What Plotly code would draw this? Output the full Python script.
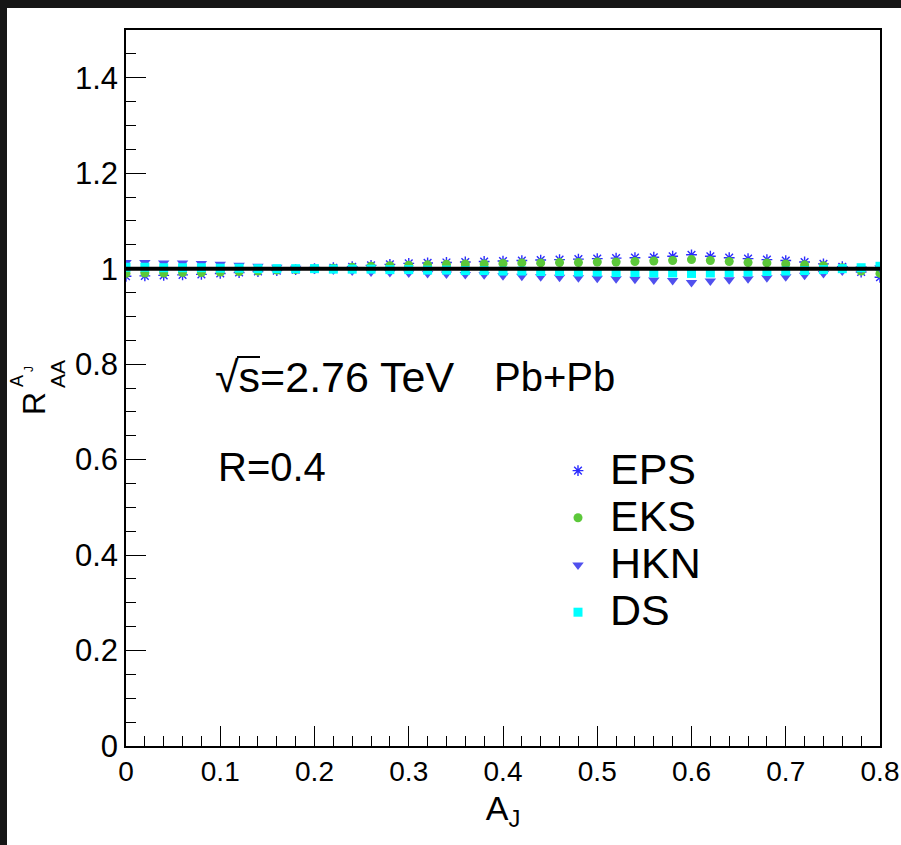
import plotly.graph_objects as go

# A_J bins
aj = [0.00, 0.02, 0.04, 0.06, 0.08, 0.10, 0.12, 0.14, 0.16, 0.18,
      0.20, 0.22, 0.24, 0.26, 0.28, 0.30, 0.32, 0.34, 0.36, 0.38,
      0.40, 0.42, 0.44, 0.46, 0.48, 0.50, 0.52, 0.54, 0.56, 0.58,
      0.60, 0.62, 0.64, 0.66, 0.68, 0.70, 0.72, 0.74, 0.76, 0.78, 0.80]

# R_AA^{A_J} for each nPDF set
eps = [0.984, 0.985, 0.986, 0.987, 0.988, 0.990, 0.992, 0.994, 0.996, 0.998,
       1.000, 1.002, 1.004, 1.007, 1.009, 1.011, 1.012, 1.013, 1.014, 1.015,
       1.016, 1.017, 1.018, 1.019, 1.020, 1.021, 1.022, 1.023, 1.024, 1.026,
       1.029, 1.026, 1.023, 1.021, 1.019, 1.017, 1.014, 1.010, 1.004, 0.993, 0.982]
eks = [0.990, 0.991, 0.991, 0.992, 0.992, 0.993, 0.994, 0.995, 0.997, 0.998,
       1.000, 1.001, 1.003, 1.005, 1.006, 1.007, 1.008, 1.009, 1.010, 1.010,
       1.011, 1.012, 1.012, 1.013, 1.013, 1.014, 1.014, 1.015, 1.016, 1.017,
       1.019, 1.017, 1.015, 1.013, 1.012, 1.010, 1.008, 1.006, 1.002, 0.995, 0.990]
hkn = [1.013, 1.013, 1.012, 1.012, 1.011, 1.009, 1.007, 1.005, 1.003, 1.001,
       0.999, 0.997, 0.995, 0.993, 0.992, 0.991, 0.990, 0.989, 0.988, 0.987,
       0.985, 0.984, 0.983, 0.982, 0.981, 0.980, 0.979, 0.978, 0.976, 0.975,
       0.971, 0.974, 0.977, 0.979, 0.981, 0.983, 0.986, 0.990, 0.995, 1.000, 1.002]
ds = [1.003, 1.003, 1.002, 1.002, 1.002, 1.001, 1.001, 1.000, 1.000, 1.000,
      1.000, 0.999, 0.999, 0.999, 0.998, 0.998, 0.997, 0.997, 0.996, 0.996,
      0.995, 0.995, 0.994, 0.994, 0.993, 0.993, 0.992, 0.992, 0.991, 0.991,
      0.990, 0.991, 0.992, 0.993, 0.994, 0.995, 0.996, 0.998, 1.000, 1.002, 1.005]

x_ticks = [0, 0.1, 0.2, 0.3, 0.4, 0.5, 0.6, 0.7, 0.8]
y_ticks = [0, 0.2, 0.4, 0.6, 0.8, 1.0, 1.2, 1.4]
reference_level = [1.0, 1.0]
reference_span = [0.0, 0.8]

FONT = "Liberation Sans, Arial, Helvetica, sans-serif"
W, H = 901, 845
ML, MR, MT, MB = 126, 21, 30, 99
PW, PH = W - ML - MR, H - MT - MB


def px_x(p):
    return (p - ML) / PW


def px_y(p):
    return (H - MB - p) / PH


def legend_name(s):
    return '<span style="font-size:43px">%s</span>' % s


fig = go.Figure()

fig.add_trace(go.Scatter(
    x=aj, y=eps, mode="markers", name=legend_name("EPS"),
    marker=dict(symbol="asterisk-open", size=9, color="#2b2bff",
                line=dict(color="#2b2bff", width=1.4))))
fig.add_trace(go.Scatter(
    x=aj, y=eks, mode="markers", name=legend_name("EKS"),
    marker=dict(symbol="circle", size=9, color="#5cc83a", line=dict(width=0))))
fig.add_trace(go.Scatter(
    x=aj, y=hkn, mode="markers", name=legend_name("HKN"),
    marker=dict(symbol="triangle-down", size=10, color="#5050ee", line=dict(width=0))))
fig.add_trace(go.Scatter(
    x=aj, y=ds, mode="markers", name=legend_name("DS"),
    marker=dict(symbol="square", size=9, color="#00ffff", line=dict(width=0))))

# unity reference line
fig.add_trace(go.Scatter(
    x=reference_span, y=reference_level, mode="lines", showlegend=False,
    line=dict(color="black", width=4), hoverinfo="skip"))

# fixed margins: labels must not push the frame around
axis_common = dict(
    showgrid=False, zeroline=False, showline=True, linecolor="black",
    linewidth=1.5, mirror=True, ticks="inside", ticklen=20, tickwidth=1.2,
    tickcolor="black", automargin=False,
)

fig.update_xaxes(
    range=[0, 0.8], tickvals=x_ticks,
    ticktext=[("%g" % v) for v in x_ticks],
    tickfont=dict(family=FONT, size=28, color="black"),
    minor=dict(ticks="inside", ticklen=10, tickwidth=1, tickcolor="black",
               dtick=0.02, tick0=0),
    title=dict(text="A<sub>J</sub>", font=dict(family=FONT, size=34, color="black"),
               standoff=10),
    **axis_common)
fig.update_yaxes(
    range=[0, 1.5], tickvals=y_ticks,
    ticktext=[("%g" % v) for v in y_ticks],
    tickfont=dict(family=FONT, size=31, color="black"),
    minor=dict(ticks="inside", ticklen=10, tickwidth=1, tickcolor="black",
               dtick=0.05, tick0=0),
    **axis_common)

annotations = [
    dict(text="\u221as=2.76 TeV", x=px_x(213), y=px_y(377),
         xanchor="left", yanchor="middle", font=dict(size=43)),
    dict(text="Pb+Pb", x=px_x(492), y=px_y(377),
         xanchor="left", yanchor="middle", font=dict(size=40)),
    dict(text="R=0.4", x=px_x(216), y=px_y(467),
         xanchor="left", yanchor="middle", font=dict(size=40)),
    # y-axis title R_AA^{A_J}, stacked super/subscripts
    dict(text="R", x=px_x(34), y=px_y(404), textangle=-90,
         xanchor="center", yanchor="middle", font=dict(size=32)),
    dict(text="AA", x=px_x(57), y=px_y(374), textangle=-90,
         xanchor="center", yanchor="middle", font=dict(size=21)),
    dict(text="A", x=px_x(17), y=px_y(381), textangle=-90,
         xanchor="center", yanchor="middle", font=dict(size=18)),
    dict(text="J", x=px_x(29), y=px_y(369), textangle=-90,
         xanchor="center", yanchor="middle", font=dict(size=12)),
]
for a in annotations:
    a.update(xref="paper", yref="paper", showarrow=False)
    a["font"].update(family=FONT, color="black")

shapes = [
    # radical bar over s
    dict(type="line", xref="paper", yref="paper",
         x0=px_x(237), x1=px_x(260), y0=px_y(357), y1=px_y(357),
         line=dict(color="black", width=2)),
    # dark frame bands along the top and left edges
    dict(type="rect", xref="paper", yref="paper", layer="above",
         x0=px_x(0), x1=px_x(W), y0=px_y(8), y1=px_y(0),
         fillcolor="#161616", line=dict(width=0)),
    dict(type="rect", xref="paper", yref="paper", layer="above",
         x0=px_x(0), x1=px_x(7), y0=px_y(H), y1=px_y(0),
         fillcolor="#161616", line=dict(width=0)),
]

fig.update_layout(
    width=W, height=H,
    margin=dict(l=ML, r=MR, t=MT, b=MB, autoexpand=False),
    paper_bgcolor="white", plot_bgcolor="white",
    font=dict(family=FONT, color="black"),
    showlegend=True,
    legend=dict(x=px_x(546), y=px_y(442), xanchor="left", yanchor="top",
                bgcolor="rgba(0,0,0,0)", borderwidth=0,
                font=dict(family=FONT, size=34, color="black"),
                itemwidth=54, tracegroupgap=0),
    annotations=annotations,
    shapes=shapes,
)

fig.write_html("out.html")
